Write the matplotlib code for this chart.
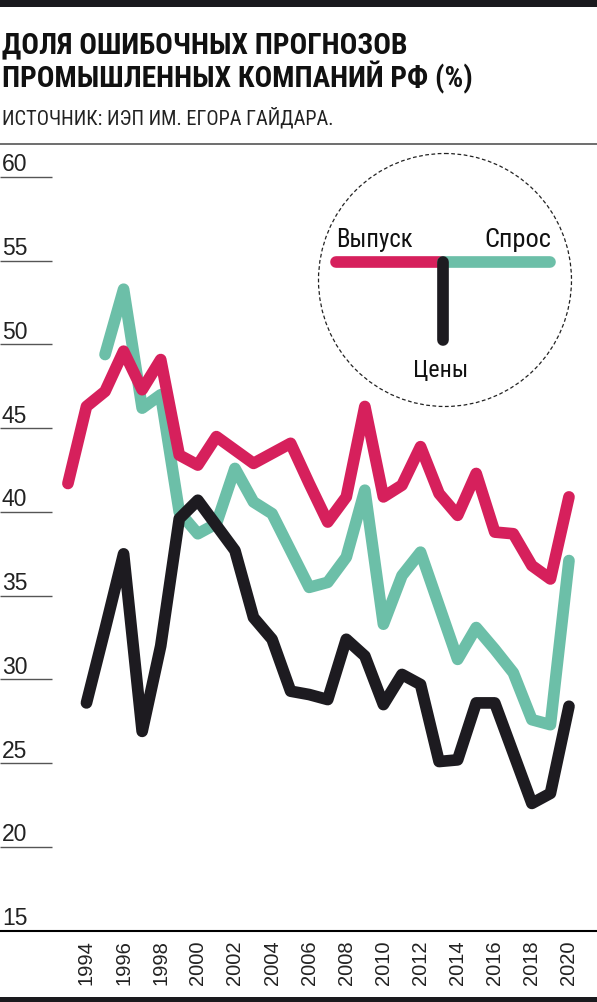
import matplotlib
matplotlib.use("Agg")
import matplotlib.pyplot as plt
from matplotlib import font_manager, transforms
from matplotlib.patches import Circle, Rectangle

# values (%)
years_output = list(range(1993, 2021))
output = [41.7, 46.3, 47.2, 49.6, 47.3, 49.1, 43.4, 42.8, 44.5, 43.7,
          42.9, 43.5, 44.1, 41.7, 39.4, 40.9, 46.3, 40.9, 41.6, 43.9,
          41.1, 39.8, 42.3, 38.8, 38.7, 36.8, 36.0, 40.9]

years_demand = list(range(1995, 2021))
demand = [49.4, 53.3, 46.2, 47.0, 40.0, 38.7, 39.3, 42.6, 40.6, 39.9,
          37.7, 35.5, 35.8, 37.3, 41.3, 33.3, 36.2, 37.6, 34.4, 31.2,
          33.1, 31.8, 30.4, 27.6, 27.3, 37.1]

years_prices = list(range(1994, 2021))
prices = [28.6, 33.0, 37.5, 26.9, 32.0, 39.6, 40.7, 39.2, 37.7, 33.7,
          32.4, 29.3, 29.1, 28.8, 32.4, 31.4, 28.5, 30.3, 29.7, 25.1,
          25.2, 28.6, 28.6, 25.6, 22.6, 23.2, 28.4]

y_ticks = [15, 20, 25, 30, 35, 40, 45, 50, 55, 60]
x_ticks = list(range(1994, 2021, 2))

title_lines = ["ДОЛЯ ОШИБОЧНЫХ ПРОГНОЗОВ", "ПРОМЫШЛЕННЫХ КОМПАНИЙ РФ (%)"]
source = "ИСТОЧНИК: ИЭП ИМ. ЕГОРА ГАЙДАРА."

RED = "#d6205c"
TEAL = "#6cbfa8"
BLACK = "#1d1b20"
GRAY = "#555555"

W, H = 597, 1003

# look for a narrow face with Cyrillic, fall back to Liberation Sans
PLAIN = "Liberation Sans"
NARROW, STRETCH = PLAIN, "normal"
prefs = ["Liberation Sans Narrow", "Roboto Condensed", "DejaVu Sans",
         "Open Sans Condensed", "Noto Sans", "Open Sans", "Roboto"]
cands = [f for f in font_manager.fontManager.ttflist
         if f.stretch in ("condensed", "semi-condensed", "extra-condensed")
         or "Narrow" in f.name or "Condensed" in f.name]
for p in prefs:
    hit = [f for f in cands if f.name == p]
    if hit:
        NARROW = p
        STRETCH = hit[0].stretch if isinstance(hit[0].stretch, str) else "condensed"
        break

fig = plt.figure(figsize=(W / 100, H / 100), dpi=100)

# main chart, bottom at 15 and top at the grey rule
ax = fig.add_axes([0, (H - 931.7) / H, 1, (931.7 - 145) / H])
ax.set_xlim(1989.34, 2021.51)
ax.set_ylim(15, 61.97)

lw = 8.4
for xs, ys, c, z in [(years_demand, demand, TEAL, 2),
                     (years_output, output, RED, 3),
                     (years_prices, prices, BLACK, 4)]:
    ax.plot(xs, ys, color=c, lw=lw, solid_capstyle="round",
            solid_joinstyle="round", zorder=z, clip_on=False)

for s in ["top", "right", "left"]:
    ax.spines[s].set_visible(False)
ax.spines["bottom"].set_color("black")
ax.spines["bottom"].set_linewidth(1.5)

ax.set_yticks(y_ticks[1:])
ax.tick_params(axis="y", direction="in", length=52 * 0.72, width=1.0,
               color=GRAY, labelleft=False)

ax.set_xticks(x_ticks)
ax.set_xticklabels([str(y) for y in x_ticks], rotation=90,
                   fontsize=14.5, family=PLAIN, color="#222222")
ax.tick_params(axis="x", length=0, pad=6)

lab_tr = transforms.offset_copy(
    transforms.blended_transform_factory(ax.transAxes, ax.transData),
    fig=fig, x=2, y=6.5, units="dots")
for v in y_ticks:
    ax.text(0, v, str(v), transform=lab_tr, ha="left", va="baseline",
            fontsize=16.5, family=PLAIN, color="#222222")

# overlay in pixel units for titles, rules and the legend
over = fig.add_axes([0, 0, 1, 1], zorder=5)
over.set_xlim(0, W)
over.set_ylim(H, 0)
over.axis("off")
over.patch.set_alpha(0)

over.add_patch(Rectangle((0, 0), W, 7.5, color="#1a1a1e", lw=0))
over.add_patch(Rectangle((0, 997.5), W, 5.5, color="#1a1a1e", lw=0))
over.plot([0, W], [145, 145], color=GRAY, lw=1.2)

nf = dict(family=NARROW, stretch=STRETCH)
t1 = over.text(2, 53.3, title_lines[0], fontsize=25, fontweight="bold",
               va="baseline", color="#111111", **nf)
t2 = over.text(2, 87.3, title_lines[1], fontsize=25, fontweight="bold",
               va="baseline", color="#111111", **nf)
t3 = over.text(2, 124, source, fontsize=18.8, va="baseline",
               color="#222222", **nf)

# legend
over.add_patch(Circle((445, 281), 126.5, fill=False, ec="#222222",
                      lw=0.9, ls=(0, (3, 2))))
over.plot([336, 443], [263.3, 263.3], color=RED, lw=lw, solid_capstyle="round")
over.plot([443, 550], [263.3, 263.3], color=TEAL, lw=lw, solid_capstyle="round")
over.plot([443, 443], [263.3, 341], color=BLACK, lw=lw, solid_capstyle="round")
l1 = over.text(336.5, 246.7, "Выпуск", fontsize=20, va="baseline",
               ha="left", color="#111111", **nf)
l2 = over.text(551.5, 246.7, "Спрос", fontsize=20, va="baseline",
               ha="right", color="#111111", **nf)
l3 = over.text(441, 377, "Цены", fontsize=20, va="baseline",
               ha="center", color="#111111", **nf)

# shrink text that comes out wider than in the original
fig.canvas.draw()
r = fig.canvas.get_renderer()
for t, target in [(t1, 405), (t2, 471), (t3, 333), (l1, 77), (l2, 67), (l3, 55)]:
    w = t.get_window_extent(renderer=r).width
    t.set_fontsize(t.get_fontsize() * min(1.0, target / w))

fig.savefig("out.png", dpi=100, facecolor="white")
